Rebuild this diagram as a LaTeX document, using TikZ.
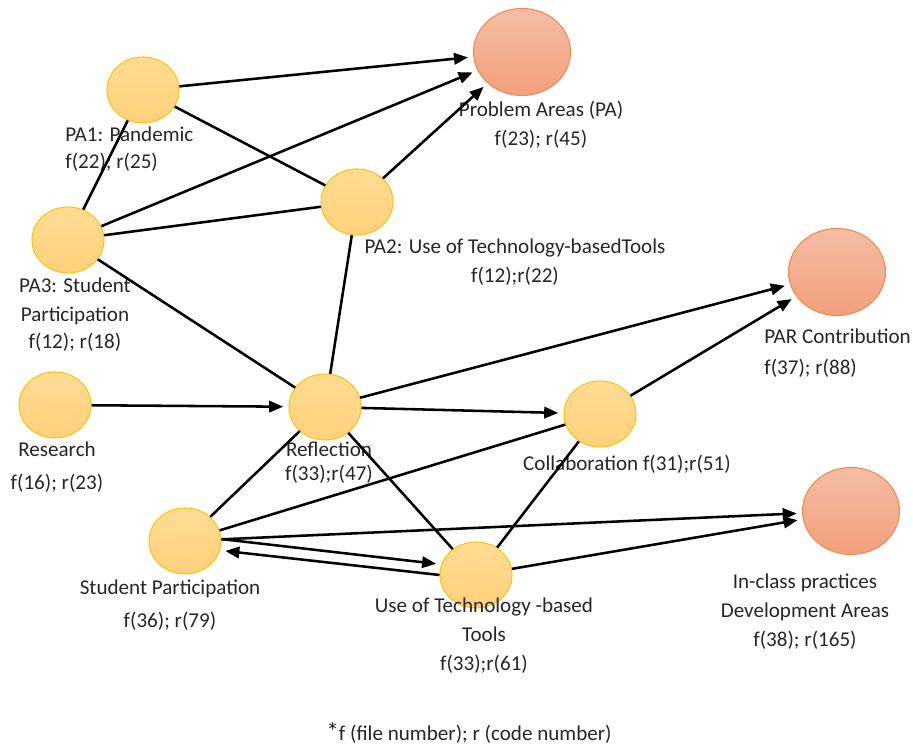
\documentclass[tikz,border=0pt]{standalone}
\usepackage{fontspec}
\setmainfont{Carlito}
\usepackage{tikz}
\usetikzlibrary{
arrows.meta,
positioning,
shapes.geometric
}
\definecolor{pargold}{HTML}{FFDC93}
\definecolor{pargolddk}{HTML}{FFD17B}
\definecolor{pargoldline}{HTML}{FFC20E}
\definecolor{parsalmon}{HTML}{F5BDA4}
\definecolor{parsalmondk}{HTML}{F39F7C}
\definecolor{parsalmonline}{HTML}{EE8A50}
\definecolor{partext}{HTML}{262626}

\begin{document}
\begin{tikzpicture}[
  >={Triangle[length=8pt,width=6.5pt]},
  every node/.style={font=\fontsize{12pt}{15.5pt}\selectfont, text=partext},
  theme/.style={ellipse, draw=pargoldline, line width=0.6pt,
                top color=pargold, bottom color=pargolddk,
                minimum width=1.44cm, minimum height=1.32cm, inner sep=0pt},
  outcome/.style={ellipse, draw=parsalmonline, line width=0.6pt,
                  top color=parsalmon, bottom color=parsalmondk,
                  minimum width=1.94cm, minimum height=1.74cm, inner sep=0pt},
  lbl/.style={align=center, inner sep=0pt},
  arrow/.style={->, line width=1.45pt, shorten >=3pt},
  link/.style={line width=1.45pt}
]
\useasboundingbox (0,0) rectangle (18.26,14.96);

%% Problem areas
\node[theme] (pa1) at (2.86, 13.16) {};
\node[theme] (pa2) at (7.14, 10.92) {};
\node[theme] (pa3) at (1.36, 10.16) {};
\node[outcome] (probarea) at (10.44, 13.92) {};

\node[lbl, align=left, anchor=west] (pa1lbl) at (1.30, 11.98)
  {PA1: Pandemic\\f(22); r(25)};
\node[lbl] (pa2lbl) at (10.30, 9.72)
  {PA2: Use of Technology-basedTools\\[1pt]f(12);r(22)};
\node[lbl] (pa3lbl) at (1.50, 8.66)
  {PA3: Student\\[1pt]Participation\\f(12); r(18)};
\node[lbl] (probarealbl) at (10.82, 12.46)
  {Problem Areas (PA)\\[1pt]f(23); r(45)};

%% Middle row
\node[theme] (research) at (1.10, 6.86) {};
\node[theme] (reflect) at (6.50, 6.82) {};
\node[theme] (collab) at (12.00, 6.68) {};
\node[outcome] (parcontrib) at (16.74, 9.52) {};

\node[lbl] (researchlbl) at (1.14, 5.62)
  {Research\\[3pt]f(16); r(23)};
\node[lbl] (reflectlbl) at (6.58, 5.70)
  {Reflection\\[-2pt]f(33);r(47)};
\node[lbl] (collablbl) at (12.54, 5.68)
  {Collaboration f(31);r(51)};
\node[lbl, align=left, anchor=west] (parcontriblbl) at (15.28, 7.90)
  {PAR Contribution\\[2pt]f(37); r(88)};

%% Bottom row
\node[theme] (studpart) at (3.70, 4.14) {};
\node[theme] (usetech) at (9.52, 3.46) {};
\node[outcome] (inclass) at (17.02, 4.74) {};

\node[lbl] (studpartlbl) at (3.40, 2.86)
  {Student Participation\\[3pt]f(36); r(79)};
\node[lbl] (usetechlbl) at (9.68, 2.24)
  {Use of Technology -based\\[1pt]Tools\\[1pt]f(33);r(61)};
\node[lbl] (inclasslbl) at (16.10, 2.72)
  {In-class practices\\[1pt]Development Areas\\[1pt]f(38); r(165)};

%% Note
\node[lbl] (note) at (9.38, 0.30)
  {{\Large *}f (file number); r (code number)};

%% Connectors
\draw[arrow] (pa1) -- (probarea);
\draw[arrow] (pa3) -- (probarea);
\draw[arrow] (pa2) -- (probarea);
\draw[link]  (pa1) -- (pa2);
\draw[link]  (pa1) -- (pa3);
\draw[link]  (pa3) -- (pa2);
\draw[link]  (pa3) -- (reflect);
\draw[link]  (pa2) -- (reflect);

\draw[arrow] (research) -- (reflect);
\draw[arrow] (reflect) -- (parcontrib);
\draw[arrow] (reflect) -- (collab);
\draw[link]  (reflect) -- (usetech);
\draw[arrow] (collab) -- (parcontrib);

\draw[link]  (studpart) -- (reflect);
\draw[link]  (studpart) -- (collab);
\draw[arrow] (studpart) -- (inclass);
\draw[arrow] (studpart.3) -- (usetech.163);
\draw[arrow] (usetech.west) -- (studpart.-15);
\draw[link]  (usetech) -- (collab);
\draw[arrow] (usetech) -- (inclass);

\end{tikzpicture}
\end{document}
